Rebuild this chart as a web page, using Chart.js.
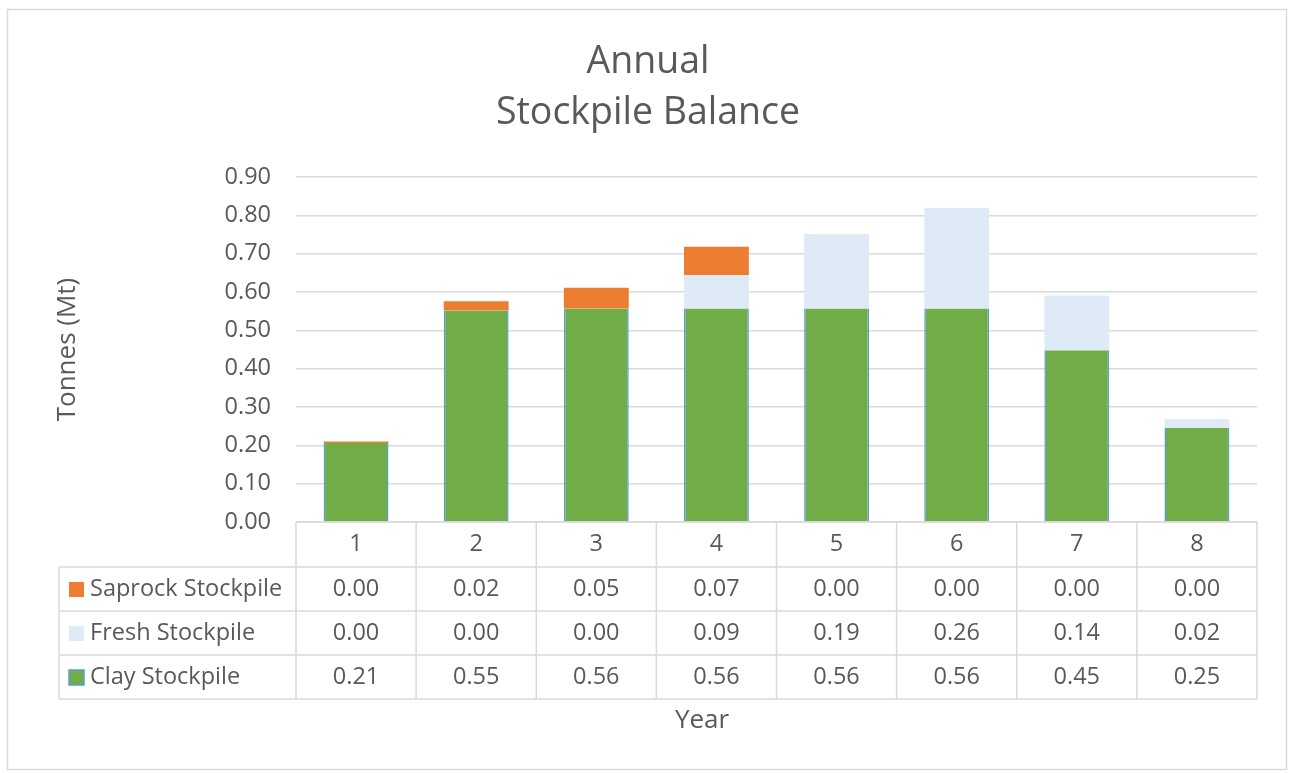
<!DOCTYPE html>
<html>
<head>
<meta charset="utf-8">
<script src="https://cdn.jsdelivr.net/npm/chart.js@4/dist/chart.umd.min.js"></script>
<style>
  html, body { margin: 0; padding: 0; background: #ffffff; }
  #wrap { width: 1292px; height: 773px; position: relative; }
</style>
</head>
<body>
<div id="wrap"><canvas id="c" width="1292" height="773"></canvas></div>
<script>
// ---- data ----
const years = ['1', '2', '3', '4', '5', '6', '7', '8'];
const saprock = [0.004, 0.024, 0.054, 0.074, 0.0, 0.0, 0.0, 0.0];
const fresh   = [0.0, 0.0, 0.0, 0.087, 0.194, 0.262, 0.143, 0.022];
const clay    = [0.206, 0.552, 0.557, 0.557, 0.557, 0.557, 0.448, 0.246];
const yTicks  = [0, 0.1, 0.2, 0.3, 0.4, 0.5, 0.6, 0.7, 0.8, 0.9];
const titleLines = ['Annual', 'Stockpile Balance'];
const yTitle = 'Tonnes (Mt)';
const xTitle = 'Year';

const FONT = '"Open Sans", sans-serif';
const TXT = '#595959';
const GRID = '#d9d9d9';
const C_SAP = '#ED7D31', C_FRESH = '#DEEBF7', C_CLAY = '#70AD47', C_CLAYB = '#5B9BD5';

// rows of the data table (top to bottom)
const tableRows = [
  { label: 'Saprock Stockpile', values: saprock, fill: C_SAP, stroke: null },
  { label: 'Fresh Stockpile',   values: fresh,   fill: C_FRESH, stroke: null },
  { label: 'Clay Stockpile',    values: clay,    fill: C_CLAY, stroke: C_CLAYB }
];

const tablePlugin = {
  id: 'dataTable',
  beforeDraw(chart) {
    const ctx = chart.ctx;
    ctx.save();
    ctx.fillStyle = '#ffffff';
    ctx.fillRect(0, 0, chart.width, chart.height);
    ctx.strokeStyle = '#d9d9d9';
    ctx.lineWidth = 1.5;
    ctx.strokeRect(7.5, 9.5, 1279, 760);
    // title
    ctx.fillStyle = TXT;
    ctx.textAlign = 'center';
    ctx.textBaseline = 'middle';
    ctx.font = '37.5px ' + FONT;
    ctx.fillText(titleLines[0], 648, 62);
    ctx.fillText(titleLines[1], 648, 113);
    ctx.restore();
  },
  afterDraw(chart) {
    const ctx = chart.ctx;
    const xs = chart.scales.x;
    const area = chart.chartArea;
    const n = years.length;
    const slot = (xs.right - xs.left) / n;
    const top = area.bottom;
    const headerH = 45, rowH = 44;
    const tableLeft = 59;
    const rowsTop = top + headerH;
    const bottom = rowsTop + rowH * tableRows.length;
    ctx.save();
    ctx.strokeStyle = GRID;
    ctx.lineWidth = 1.5;
    ctx.beginPath();
    ctx.moveTo(xs.left, top); ctx.lineTo(xs.right, top);
    for (let r = 0; r <= tableRows.length; r++) {
      const y = rowsTop + r * rowH;
      ctx.moveTo(tableLeft, y); ctx.lineTo(xs.right, y);
    }
    for (let i = 0; i <= n; i++) {
      const x = xs.left + i * slot;
      ctx.moveTo(x, top); ctx.lineTo(x, bottom);
    }
    ctx.moveTo(tableLeft, rowsTop); ctx.lineTo(tableLeft, bottom);
    ctx.stroke();

    ctx.font = '23.5px ' + FONT;
    ctx.textBaseline = 'middle';
    tableRows.forEach((row, r) => {
      const cy = rowsTop + r * rowH + rowH / 2;
      ctx.textAlign = 'center';
      ctx.fillStyle = TXT;
      row.values.forEach((v, i) => {
        ctx.fillText(v.toFixed(2), xs.getPixelForValue(i), cy);
      });
      ctx.fillStyle = row.fill;
      ctx.fillRect(69, cy - 7, 15, 15);
      if (row.stroke) {
        ctx.strokeStyle = row.stroke;
        ctx.lineWidth = 1.5;
        ctx.strokeRect(69, cy - 7, 15, 15);
      }
      ctx.fillStyle = TXT;
      ctx.textAlign = 'left';
      ctx.fillText(row.label, 90, cy);
    });
    ctx.textAlign = 'center';
    ctx.font = '26px ' + FONT;
    ctx.fillText(xTitle, 702, 721);
    ctx.restore();
  }
};

new Chart(document.getElementById('c'), {
  type: 'bar',
  data: {
    labels: years,
    datasets: [
      { label: 'Clay Stockpile', data: clay, backgroundColor: C_CLAY, borderColor: C_CLAYB,
        borderWidth: { left: 1.5, right: 1.5, top: 0, bottom: 0 } },
      { label: 'Fresh Stockpile', data: fresh, backgroundColor: C_FRESH, borderWidth: 0 },
      { label: 'Saprock Stockpile', data: saprock, backgroundColor: C_SAP, borderWidth: 0 }
    ]
  },
  options: {
    responsive: false,
    animation: false,
    devicePixelRatio: 1,
    layout: { padding: { left: 52, right: 35, top: 177, bottom: 0 } },
    datasets: { bar: { categoryPercentage: 1.0, barPercentage: 0.54 } },
    plugins: {
      legend: { display: false },
      tooltip: { enabled: false },
      title: { display: false }
    },
    scales: {
      x: {
        stacked: true,
        grid: { display: false, drawTicks: false },
        border: { display: false },
        ticks: { color: TXT, font: { family: FONT, size: 23.5 }, padding: 8 },
        afterFit(scale) { scale.height = 251; }
      },
      y: {
        stacked: true,
        min: 0, max: 0.9,
        afterBuildTicks(scale) { scale.ticks = yTicks.map(v => ({ value: v })); },
        ticks: {
          color: TXT, font: { family: FONT, size: 23.5 }, padding: 25,
          callback: (v) => Number(v).toFixed(2)
        },
        grid: { color: GRID, lineWidth: 1.5, drawTicks: false },
        border: { display: false },
        title: { display: true, text: yTitle, color: TXT, font: { family: FONT, size: 26 }, padding: 0 },
        afterFit(scale) { scale.width = 296 - 52; }
      }
    }
  },
  plugins: [tablePlugin]
});
</script>
</body>
</html>
